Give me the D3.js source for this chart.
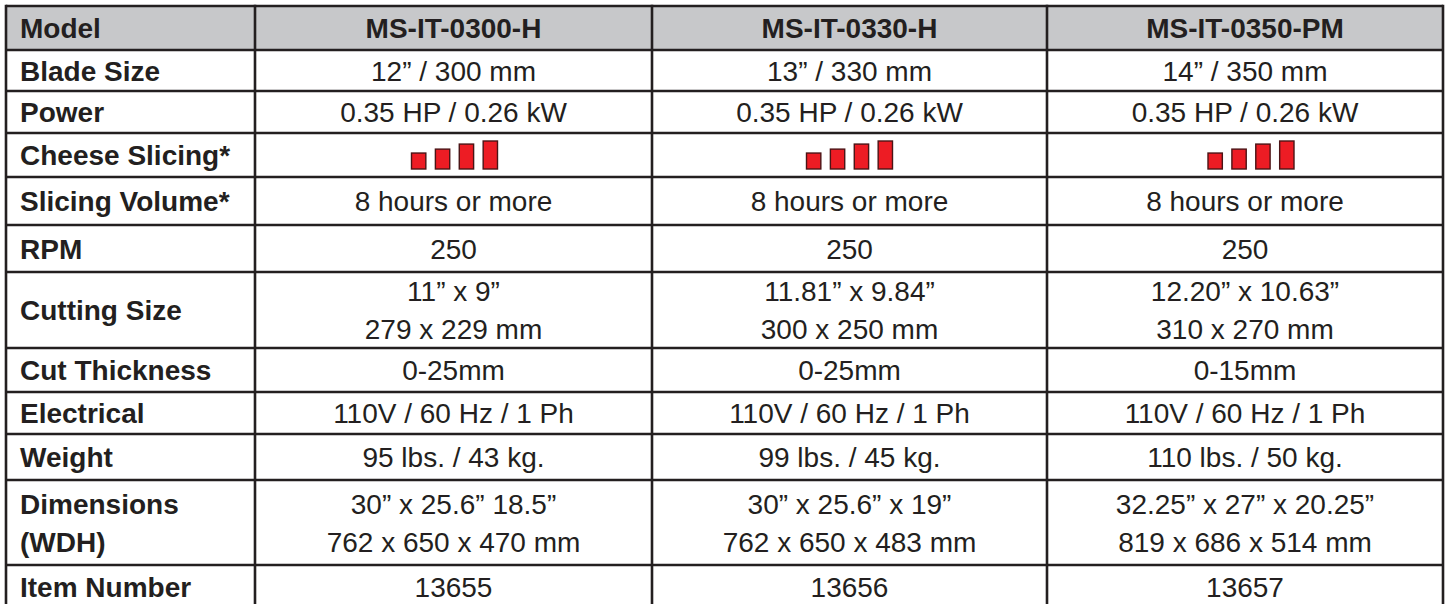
<!DOCTYPE html>
<html>
<head>
<meta charset="utf-8">
<script src="https://cdn.jsdelivr.net/npm/d3@7"></script>
<style>
  html, body { margin: 0; padding: 0; background: #ffffff; }
  svg { display: block; }
  text { font-family: "Liberation Sans", Arial, Helvetica, sans-serif; fill: #231f20; }
</style>
</head>
<body>
<div id="chart"></div>
<script>
// ---------------- data ----------------
const headerLabel = "Model";
const models = ["MS-IT-0300-H", "MS-IT-0330-H", "MS-IT-0350-PM"];
const rowLabels = [
  ["Blade Size"],
  ["Power"],
  ["Cheese Slicing*"],
  ["Slicing Volume*"],
  ["RPM"],
  ["Cutting Size"],
  ["Cut Thickness"],
  ["Electrical"],
  ["Weight"],
  ["Dimensions", "(WDH)"],
  ["Item Number"]
];
const bladeSize = ["12” / 300 mm", "13” / 330 mm", "14” / 350 mm"];
const power = ["0.35 HP / 0.26 kW", "0.35 HP / 0.26 kW", "0.35 HP / 0.26 kW"];
const cheeseLevels = [0.57, 0.71, 0.89, 1.0];   // relative bar heights of the slicing indicator
const slicingVolume = ["8 hours or more", "8 hours or more", "8 hours or more"];
const rpm = ["250", "250", "250"];
const cuttingSize = [["11” x 9”", "279 x 229 mm"], ["11.81” x 9.84”", "300 x 250 mm"], ["12.20” x 10.63”", "310 x 270 mm"]];
const cutThickness = ["0-25mm", "0-25mm", "0-15mm"];
const electrical = ["110V / 60 Hz / 1 Ph", "110V / 60 Hz / 1 Ph", "110V / 60 Hz / 1 Ph"];
const weight = ["95 lbs. / 43 kg.", "99 lbs. / 45 kg.", "110 lbs. / 50 kg."];
const dimensions = [["30” x 25.6” 18.5”", "762 x 650 x 470 mm"], ["30” x 25.6” x 19”", "762 x 650 x 483 mm"], ["32.25” x 27” x 20.25”", "819 x 686 x 514 mm"]];
const itemNumber = ["13655", "13656", "13657"];

const rowValues = [bladeSize, power, null, slicingVolume, rpm, cuttingSize, cutThickness, electrical, weight, dimensions, itemNumber];

// ---------------- layout ----------------
const W = 1447, H = 604;
const colEdges = [6, 255, 652, 1047, 1443];
const rowEdges = [6, 50, 91, 133, 177, 225, 272, 348, 392, 434, 480, 565, 609];
const lineGap = 38;
const ink = "#231f20";
const fontSize = 28;

const svg = d3.select("#chart").append("svg").attr("width", W).attr("height", H);

// header background
svg.append("rect")
  .attr("x", colEdges[0]).attr("y", rowEdges[0])
  .attr("width", colEdges[4] - colEdges[0]).attr("height", rowEdges[1] - rowEdges[0])
  .attr("fill", "#c7c8ca");

const colCenter = i => (colEdges[i + 1] + colEdges[i + 2]) / 2;
const rowCenter = r => (rowEdges[r] + rowEdges[r + 1]) / 2;

function addLines(g, lines, x, yc, anchor, weightStyle) {
  const n = lines.length;
  lines.forEach((t, k) => {
    g.append("text")
      .attr("x", x)
      .attr("y", yc + (k - (n - 1) / 2) * lineGap)
      .attr("dy", "0.36em")
      .attr("text-anchor", anchor)
      .attr("font-size", fontSize)
      .attr("font-weight", weightStyle)
      .text(t);
  });
}

const g = svg.append("g");

// header row
addLines(g, [headerLabel], colEdges[0] + 14, rowCenter(0), "start", "bold");
models.forEach((m, i) => addLines(g, [m], colCenter(i), rowCenter(0), "middle", "bold"));

// body rows
rowLabels.forEach((lab, r) => {
  const ri = r + 1;
  addLines(g, lab, colEdges[0] + 14, rowCenter(ri), "start", "bold");
  const vals = rowValues[r];
  if (vals) {
    vals.forEach((v, i) => {
      addLines(g, Array.isArray(v) ? v : [v], colCenter(i), rowCenter(ri), "middle", "normal");
    });
  }
});

// cheese slicing indicator bars
const cheeseRow = 3;
const barBase = rowCenter(cheeseRow) + 14;
const hScale = d3.scaleLinear().domain([0, 1]).range([0, 28]);
const xBand = d3.scaleBand().domain(d3.range(cheeseLevels.length)).range([-43, 43]).paddingInner(0.4);
const barOffsets = [1, 0, 6];
models.forEach((m, i) => {
  const cx = colCenter(i) + barOffsets[i];
  g.selectAll(null).data(cheeseLevels).enter().append("rect")
    .attr("x", (d, k) => cx + xBand(k))
    .attr("y", d => barBase - hScale(d))
    .attr("width", xBand.bandwidth())
    .attr("height", d => hScale(d))
    .attr("fill", "#ed1c24")
    .attr("stroke", "#4a1416")
    .attr("stroke-width", 1.4);
});

// grid lines
const grid = svg.append("g").attr("stroke", ink).attr("stroke-width", 2.6).attr("fill", "none");
rowEdges.slice(0, -1).forEach(y => {
  grid.append("line").attr("x1", colEdges[0]).attr("x2", colEdges[4]).attr("y1", y).attr("y2", y);
});
colEdges.forEach(x => {
  grid.append("line").attr("x1", x).attr("x2", x).attr("y1", rowEdges[0] - 1.3).attr("y2", H + 2);
});
</script>
</body>
</html>
